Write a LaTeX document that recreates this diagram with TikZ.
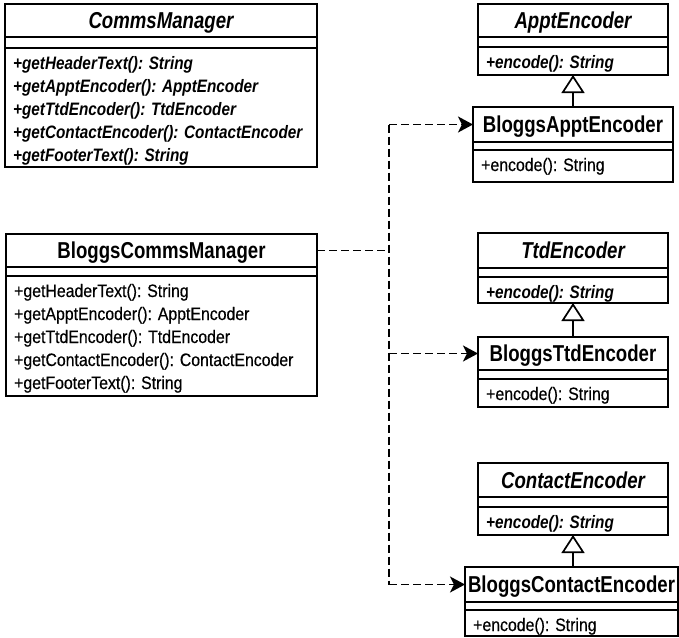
\documentclass[tikz,border=0pt]{standalone}
\usepackage{fontspec}
\setmainfont{Liberation Sans}
\newfontfamily\titlefont[FakeStretch=0.81]{Liberation Sans}
\newfontfamily\methfont[FakeStretch=0.88,FakeBold=0.4]{Liberation Sans}
\newfontfamily\imethfont[FakeStretch=0.85]{Liberation Sans}
\usetikzlibrary{arrows.meta}

\tikzset{
  boxnode/.style={draw, rectangle, line width=2pt, inner sep=0pt, outer sep=0pt},
  bandnode/.style={draw, rectangle, line width=1.8pt, inner sep=0pt, outer sep=0pt},
  innerline/.style={line width=1.8pt},
  ptitle/.style={font=\titlefont\bfseries\fontsize{23}{26}\selectfont, inner sep=0pt},
  atitle/.style={font=\titlefont\bfseries\itshape\fontsize{23}{26}\selectfont, inner sep=0pt},
  pmeth/.style={font=\methfont\fontsize{18}{21}\selectfont, inner sep=0pt},
  ameth/.style={font=\imethfont\bfseries\itshape\fontsize{18}{21}\selectfont, inner sep=0pt},
  ctitle/.style={ptitle},
  cmeth/.style={pmeth},
  dep/.style={line width=1.8pt, dash pattern=on 8pt off 4pt},
  deparrow/.style={dep, -{Stealth[length=15pt,width=16pt,inset=4pt]}},
  inh/.style={line width=1.7pt, -{Triangle[open, length=18pt, width=23pt]}}
}

% #1 name, #2 left, #3 top, #4 right, #5 bottom, #6 title line, #7 second line, #8 title, #9 methods
\newcommand{\umlclass}[9]{%
  \node[boxnode, minimum width={#4pt-#2pt}, minimum height={#5pt-#3pt}, anchor=north west] (#1-box) at (#2,#3) {};
  \node[bandnode, minimum width={#4pt-#2pt}, minimum height={#6pt-#3pt}, anchor=north west] (#1) at (#2,#3) {};
  \node[ctitle, anchor=base] (#1-title) at ({(#2+#4)/2},{(#3+#6)/2+8.2}) {#8};
  \draw[innerline] (#2,#7) -- (#4,#7);
  \foreach \m [count=\i from 0] in {#9} {
    \node[cmeth, anchor=base west] (#1-m\i) at ({#2+8},{#7+21}) [yshift={-23pt*\i}] {\m};
  }
}

\begin{document}
\begin{tikzpicture}[x=1pt, y=-1pt]
\useasboundingbox (0,0) rectangle (679,637);

\begin{scope}[ctitle/.style={atitle}, cmeth/.style={ameth}]
  \umlclass{cm}{5}{4}{317}{167}{37}{48}{CommsManager}{+getHeaderText(): String, +getApptEncoder(): ApptEncoder, +getTtdEncoder(): TtdEncoder, +getContactEncoder(): ContactEncoder, +getFooterText(): String}
  \umlclass{appt}{478}{4}{668}{75}{37}{47}{ApptEncoder}{+encode(): String}
  \umlclass{ttd}{478}{233}{668}{303}{268}{277}{TtdEncoder}{+encode(): String}
  \umlclass{cont}{478}{463}{668}{535}{497}{507}{ContactEncoder}{+encode(): String}
\end{scope}

\umlclass{bcm}{6}{234}{317}{396}{267}{276}{BloggsCommsManager}{+getHeaderText(): String, +getApptEncoder(): ApptEncoder, +getTtdEncoder(): TtdEncoder, +getContactEncoder(): ContactEncoder, +getFooterText(): String}
\umlclass{bappt}{473}{107}{673}{182}{142}{150}{BloggsApptEncoder}{+encode(): String}
\umlclass{bttd}{478}{337}{668}{407}{370}{379}{BloggsTtdEncoder}{+encode(): String}
\umlclass{bcont}{465}{567}{678}{636}{602}{610}{BloggsContactEncoder}{+encode(): String}

% inheritance
\draw[inh] (bappt.north -| appt-box.south) -- (appt-box.south);
\draw[inh] (bttd.north -| ttd-box.south) -- (ttd-box.south);
\draw[inh] (bcont.north -| cont-box.south) -- (cont-box.south);

% dependencies
\coordinate (jx) at (389,0);
\draw[dep] (bcm.east) -- (bcm.east -| jx);
\draw[dep] (bappt.west -| jx) -- (bcont.west -| jx);
\draw[deparrow] (bappt.west -| jx) -- (bappt.west);
\draw[deparrow] (bttd.west -| jx) -- (bttd.west);
\draw[deparrow] (bcont.west -| jx) -- (bcont.west);
\end{tikzpicture}
\end{document}
